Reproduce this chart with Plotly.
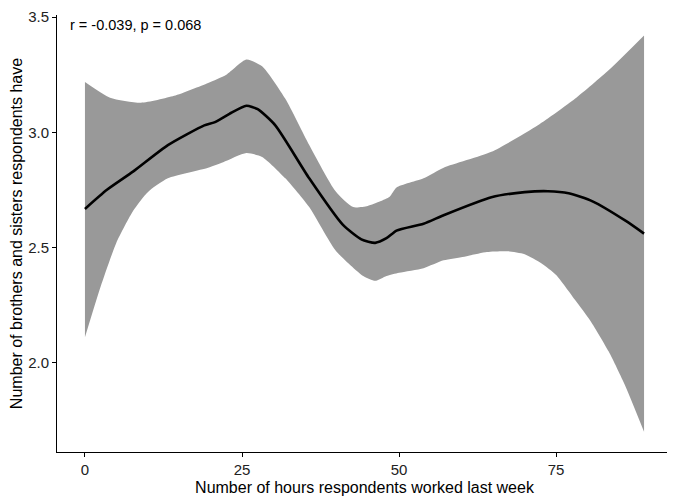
import plotly.graph_objects as go

# smoothed fit (loess)
fit_x = [0, 3.5, 7.7, 13.2, 19, 20.6, 23, 25.7, 27.5, 30.3, 35.7, 41, 44, 46.2, 48, 49.6,
         53.9, 57.1, 64.7, 70, 73.7, 77, 80.8, 86.1, 89]
fit_y = [2.667, 2.75, 2.83, 2.944, 3.03, 3.043, 3.08, 3.115, 3.10, 3.03, 2.80, 2.60, 2.535,
         2.52, 2.54, 2.573, 2.603, 2.64, 2.718, 2.74, 2.744, 2.735, 2.70, 2.615, 2.56]

upper_x = [0, 4, 8.9, 14.2, 19.6, 22.5, 25.7, 28.2, 31.9, 35.7, 39.9, 42.7, 45, 47, 48.5,
           49.6, 53.9, 57.1, 64.7, 72.1, 78, 83.4, 89]
upper_y = [3.218, 3.15, 3.128, 3.158, 3.214, 3.25, 3.316, 3.286, 3.145, 2.945, 2.744, 2.675,
           2.68, 2.70, 2.72, 2.76, 2.80, 2.846, 2.915, 3.03, 3.145, 3.27, 3.42]

lower_x = [0, 2.5, 5, 7.7, 10, 13.2, 19.6, 22, 25.7, 28.2, 31.9, 35.7, 39.9, 44.3, 46.2,
           48, 50, 53.9, 57.1, 60.4, 64, 67.3, 70, 72.7, 75, 78, 80.5, 83.4, 86, 89]
lower_y = [2.11, 2.33, 2.52, 2.66, 2.74, 2.80, 2.846, 2.87, 2.91, 2.893, 2.80, 2.675, 2.487,
           2.376, 2.355, 2.376, 2.39, 2.41, 2.444, 2.46, 2.48, 2.483, 2.47, 2.43, 2.38, 2.273,
           2.18, 2.047, 1.90, 1.70]

stat_label = "r = -0.039, p = 0.068"

fig = go.Figure()
fig.add_trace(go.Scatter(
    x=lower_x, y=lower_y, mode="lines",
    line=dict(width=0, color="#999999", shape="spline", smoothing=0.6),
    hoverinfo="skip", showlegend=False,
))
fig.add_trace(go.Scatter(
    x=upper_x, y=upper_y, mode="lines",
    line=dict(width=0, color="#999999", shape="spline", smoothing=0.6),
    fill="tonexty", fillcolor="#999999", hoverinfo="skip", showlegend=False,
))
fig.add_trace(go.Scatter(
    x=fit_x, y=fit_y, mode="lines",
    line=dict(color="black", width=2.6, shape="spline", smoothing=0.6),
    showlegend=False,
))

fig.add_annotation(
    text=stat_label, xref="paper", yref="paper", x=0.018, y=1.0,
    xanchor="left", yanchor="top", showarrow=False,
    font=dict(size=14.5, color="black"),
)

axis_style = dict(
    showgrid=False, zeroline=False, showline=True, linecolor="black", linewidth=1,
    ticks="outside", ticklen=4, tickcolor="black", tickfont=dict(size=15, color="#222"),
    title_font=dict(size=16, color="black"), ticklabeloverflow="allow",
)
fig.update_xaxes(
    title_text="Number of hours respondents worked last week", range=[-4.45, 93.45],
    tickvals=[0, 25, 50, 75], title_standoff=4, **axis_style,
)
fig.update_yaxes(
    title_text="Number of brothers and sisters respondents have", range=[1.612, 3.509],
    tickvals=[2.0, 2.5, 3.0, 3.5], tickformat=".1f", title_standoff=6, **axis_style,
)
fig.update_layout(
    width=675, height=502, plot_bgcolor="white", paper_bgcolor="white",
    margin=dict(l=49, r=11, t=0, b=58),
    font=dict(family="Liberation Sans, Arial, sans-serif"),
)

fig.write_html("out.html")
